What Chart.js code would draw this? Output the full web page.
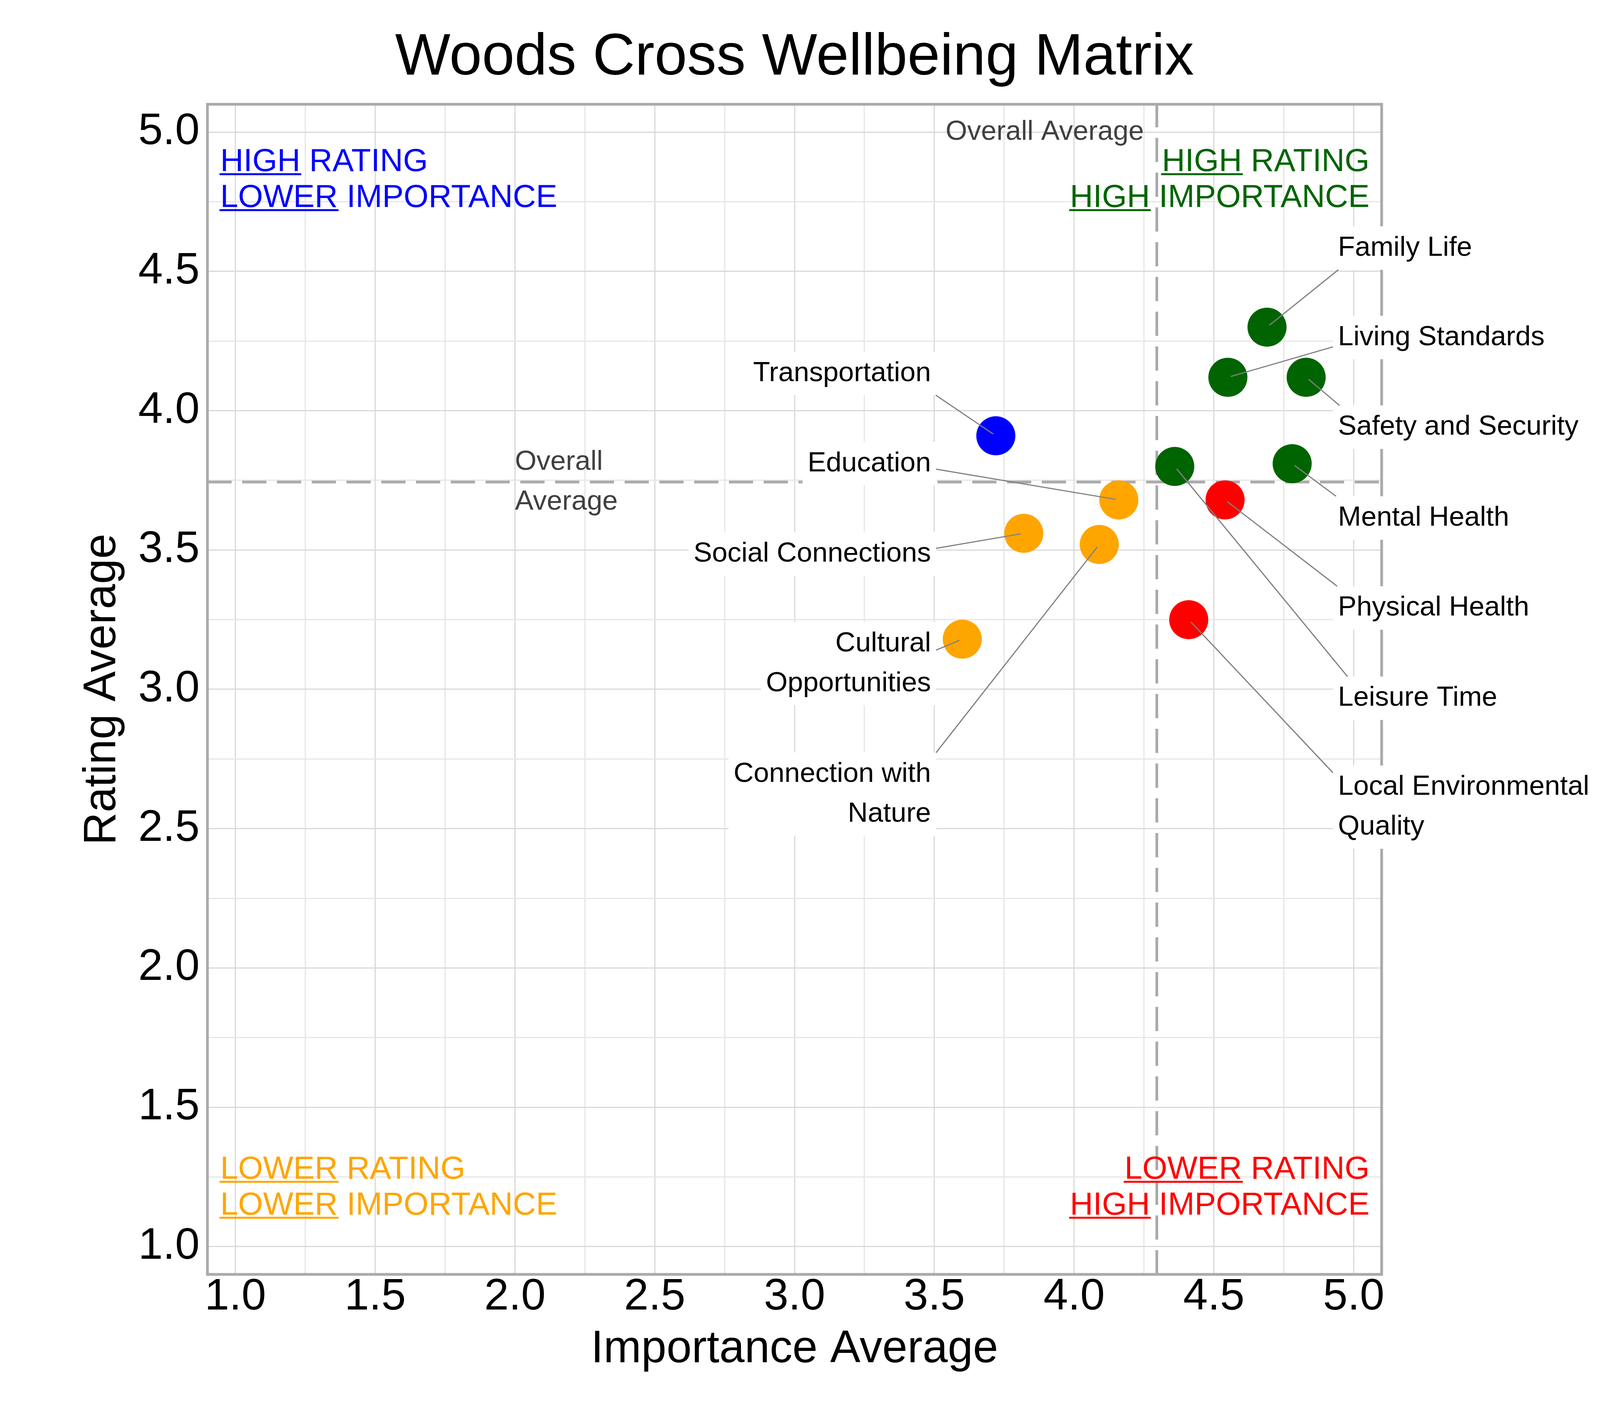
<!DOCTYPE html>
<html>
<head>
<meta charset="utf-8">
<title>Woods Cross Wellbeing Matrix</title>
<script src="https://cdn.jsdelivr.net/npm/chart.js@4.4.0/dist/chart.umd.min.js"></script>
<style>
  html, body { margin: 0; padding: 0; background: #ffffff; }
  #wrap { width: 4200px; height: 3600px; }
</style>
</head>
<body>
<div id="wrap"><canvas id="matrix" width="4200" height="3600"></canvas></div>
<script>
const FONT = '"Liberation Sans", Arial, Helvetica, sans-serif';

// Survey domains and their averages
const domains = ['Family Life', 'Living Standards', 'Safety and Security', 'Mental Health', 'Physical Health', 'Leisure Time',
    'Local Environmental Quality', 'Transportation', 'Education', 'Social Connections', 'Cultural Opportunities', 'Connection with Nature'];
const importanceAvg = [4.69, 4.55, 4.83, 4.78, 4.54, 4.36, 4.41, 3.72, 4.16, 3.82, 3.60, 4.09];
const ratingAvg = [4.30, 4.12, 4.12, 3.81, 3.68, 3.80, 3.25, 3.91, 3.68, 3.56, 3.18, 3.52];

// Label text (wrapped) and where each label is placed
const labelLines = [['Family Life'], ['Living Standards'], ['Safety and Security'], ['Mental Health'], ['Physical Health'],
    ['Leisure Time'], ['Local Environmental', 'Quality'], ['Transportation'], ['Education'], ['Social Connections'],
    ['Cultural', 'Opportunities'], ['Connection with', 'Nature']];
const labelX = [4.944, 4.944, 4.944, 4.944, 4.944, 4.944, 4.944, 3.488, 3.488, 3.488, 3.488, 3.488];
const labelY = [4.584, 4.263, 3.941, 3.615, 3.292, 2.968, 2.577, 4.134, 3.810, 3.486, 3.092, 2.624];
const labelAlign = ['left', 'left', 'left', 'left', 'left', 'left', 'left', 'right', 'right', 'right', 'right', 'right'];

// Axis ticks: grid every 0.25, labels every 0.5
const gridSteps = [1.0, 1.25, 1.5, 1.75, 2.0, 2.25, 2.5, 2.75, 3.0, 3.25, 3.5, 3.75, 4.0, 4.25, 4.5, 4.75, 5.0];
const tickValues = [1.0, 1.5, 2.0, 2.5, 3.0, 3.5, 4.0, 4.5, 5.0];
const tickLabels = ['1.0', '1.5', '2.0', '2.5', '3.0', '3.5', '4.0', '4.5', '5.0'];

// Quadrant captions: [underlined word, rest]
const quadrantText = [
    [['HIGH', ' RATING'], ['LOWER', ' IMPORTANCE']],   // top left
    [['HIGH', ' RATING'], ['HIGH', ' IMPORTANCE']],    // top right
    [['LOWER', ' RATING'], ['LOWER', ' IMPORTANCE']],  // bottom left
    [['LOWER', ' RATING'], ['HIGH', ' IMPORTANCE']]    // bottom right
];
const quadrantColors = ['#0000ff', '#006400', '#ffa500', '#ff0000'];

const mean = arr => arr.reduce((a, b) => a + b, 0) / arr.length;
const avgImportance = mean(importanceAvg);
const avgRating = mean(ratingAvg);

const quadrantOf = i => {
    const highRating = ratingAvg[i] >= avgRating;
    const highImp = importanceAvg[i] >= avgImportance;
    if (highRating) return highImp ? 1 : 0;
    return highImp ? 3 : 2;
};
const pointColors = domains.map((d, i) => quadrantColors[quadrantOf(i)]);

const LABEL_SIZE = 71;
const LINE_GAP = 102;
const HALF_EM = (0.905 + 0.212) / 2 * LABEL_SIZE;
const PAD_X = 13, PAD_Y = 16;
const ARROW_INSET = 70;   // connector aims at a spot this far inside the text

// white box behind a point label, in pixels
const labelBox = (chart, i) => {
    const { ctx, scales: { x, y } } = chart;
    const lines = labelLines[i];
    const px = x.getPixelForValue(labelX[i]);
    const py = y.getPixelForValue(labelY[i]);
    ctx.save();
    ctx.font = `${LABEL_SIZE}px ${FONT}`;
    const w = Math.max(...lines.map(l => ctx.measureText(l).width));
    ctx.restore();
    const n = lines.length;
    const mids = lines.map((l, k) => py + (k - (n - 1) / 2) * LINE_GAP);
    const textLeft = labelAlign[i] === 'left' ? px : px - w;
    return {
        anchor: px, mids, midY: py,
        hook: labelAlign[i] === 'left' ? px + ARROW_INSET : px - ARROW_INSET,
        left: textLeft - PAD_X, right: textLeft + w + PAD_X,
        top: mids[0] - HALF_EM - PAD_Y, bottom: mids[n - 1] + HALF_EM + PAD_Y
    };
};

const drawQuadrant = (ctx, lines, color, xAnchor, align, baselines) => {
    ctx.font = `82px ${FONT}`;
    ctx.fillStyle = color;
    ctx.strokeStyle = color;
    ctx.lineWidth = 5;
    ctx.lineCap = 'round';
    ctx.textAlign = 'left';
    ctx.textBaseline = 'alphabetic';
    lines.forEach(([word, rest], k) => {
        const ww = ctx.measureText(word).width;
        const total = ctx.measureText(word + rest).width;
        const x0 = align === 'left' ? xAnchor : xAnchor - total;
        ctx.fillText(word + rest, x0, baselines[k]);
        ctx.beginPath();
        ctx.moveTo(x0, baselines[k] + 8);
        ctx.lineTo(x0 + ww, baselines[k] + 8);
        ctx.stroke();
    });
};

const matrixDecor = {
    id: 'matrixDecor',
    beforeDatasetsDraw(chart) {
        const { ctx, chartArea: a, scales: { x, y } } = chart;
        const ax = x.getPixelForValue(avgImportance);
        const ay = y.getPixelForValue(avgRating);
        ctx.save();
        // overall average lines
        ctx.strokeStyle = '#aaaaaa';
        ctx.lineWidth = 7;
        ctx.setLineDash([62, 27]);
        ctx.beginPath();
        ctx.moveTo(ax, a.bottom); ctx.lineTo(ax, a.top);
        ctx.moveTo(a.left, ay); ctx.lineTo(a.right, ay);
        ctx.stroke();
        ctx.setLineDash([]);
        // frame
        ctx.strokeRect(a.left, a.top, a.right - a.left, a.bottom - a.top);
        // label backgrounds
        ctx.fillStyle = '#ffffff';
        domains.forEach((d, i) => {
            const b = labelBox(chart, i);
            ctx.fillRect(b.left, b.top, b.right - b.left, b.bottom - b.top);
        });
        ctx.restore();
    },
    afterDatasetsDraw(chart) {
        const { ctx, chartArea: a, scales: { x, y } } = chart;
        ctx.save();

        // connector lines: aim from inside the label towards the point, start at the box edge
        ctx.strokeStyle = '#808080';
        ctx.lineWidth = 3;
        domains.forEach((d, i) => {
            const b = labelBox(chart, i);
            const px = x.getPixelForValue(importanceAvg[i]);
            const py = y.getPixelForValue(ratingAvg[i]);
            const hx = b.hook, hy = b.midY;
            const dx = px - hx, dy = py - hy;
            let t = 1;
            if (dx > 0) t = Math.min(t, (b.right - hx) / dx);
            if (dx < 0) t = Math.min(t, (b.left - hx) / dx);
            if (dy > 0) t = Math.min(t, (b.bottom - hy) / dy);
            if (dy < 0) t = Math.min(t, (b.top - hy) / dy);
            const sx = hx + dx * t, sy = hy + dy * t;
            const len = Math.hypot(px - sx, py - sy);
            const k = len > 0 ? (len - 8) / len : 1;
            ctx.beginPath();
            ctx.moveTo(sx, sy);
            ctx.lineTo(sx + (px - sx) * k, sy + (py - sy) * k);
            ctx.stroke();
        });

        // label text
        ctx.font = `${LABEL_SIZE}px ${FONT}`;
        ctx.fillStyle = '#000000';
        ctx.textBaseline = 'middle';
        domains.forEach((d, i) => {
            const b = labelBox(chart, i);
            ctx.textAlign = labelAlign[i];
            labelLines[i].forEach((line, k) => ctx.fillText(line, b.anchor, b.mids[k]));
        });

        // overall average captions
        const ax = x.getPixelForValue(avgImportance);
        const ay = y.getPixelForValue(avgRating);
        ctx.fillStyle = '#404040';
        ctx.textAlign = 'right';
        ctx.fillText('Overall Average', ax - 33, y.getPixelForValue(5.0));
        ctx.textAlign = 'left';
        ctx.fillText('Overall', x.getPixelForValue(2.0), ay - LINE_GAP / 2);
        ctx.fillText('Average', x.getPixelForValue(2.0), ay + LINE_GAP / 2);

        // quadrant captions
        const topLines = [a.top + 171, a.top + 263];
        const bottomLines = [a.bottom - 245, a.bottom - 153];
        drawQuadrant(ctx, quadrantText[0], quadrantColors[0], a.left + 33, 'left', topLines);
        drawQuadrant(ctx, quadrantText[1], quadrantColors[1], a.right - 31, 'right', topLines);
        drawQuadrant(ctx, quadrantText[2], quadrantColors[2], a.left + 33, 'left', bottomLines);
        drawQuadrant(ctx, quadrantText[3], quadrantColors[3], a.right - 31, 'right', bottomLines);

        // title
        ctx.font = `150px ${FONT}`;
        ctx.fillStyle = '#000000';
        ctx.textAlign = 'center';
        ctx.textBaseline = 'alphabetic';
        ctx.fillText('Woods Cross Wellbeing Matrix', (a.left + a.right) / 2, 191);
        ctx.restore();
    }
};

const isMajor = v => tickValues.includes(v);
const tickLabel = v => {
    const idx = tickValues.indexOf(v);
    return idx >= 0 ? tickLabels[idx] : '';
};
const gridColor = c => (c.tick && isMajor(c.tick.value)) ? '#d9d9d9' : '#e6e6e6';

const ctx = document.getElementById('matrix').getContext('2d');
new Chart(ctx, {
    type: 'scatter',
    data: {
        datasets: [{
            label: 'Wellbeing domains',
            data: domains.map((d, i) => ({ x: importanceAvg[i], y: ratingAvg[i] })),
            backgroundColor: pointColors,
            borderWidth: 0,
            pointRadius: 50,
            pointHoverRadius: 50
        }]
    },
    options: {
        responsive: false,
        devicePixelRatio: 1,
        animation: false,
        layout: { padding: { top: 267, right: 663, bottom: 0, left: 0 } },
        plugins: {
            legend: { display: false },
            tooltip: { enabled: false },
            title: { display: false }
        },
        scales: {
            x: {
                type: 'linear',
                min: 0.9,
                max: 5.1,
                afterBuildTicks: s => { s.ticks = gridSteps.map(v => ({ value: v })); },
                afterFit: s => { s.height = 337; },
                border: { display: false },
                grid: { color: gridColor, lineWidth: 3, drawTicks: false },
                ticks: {
                    autoSkip: false,
                    maxRotation: 0,
                    padding: 2,
                    color: '#000000',
                    font: { family: FONT, size: 113, lineHeight: 1 },
                    callback: v => tickLabel(v)
                },
                title: {
                    display: true,
                    text: 'Importance Average',
                    color: '#000000',
                    font: { family: FONT, size: 116 },
                    padding: { top: 0, bottom: 74 }
                }
            },
            y: {
                type: 'linear',
                min: 0.9,
                max: 5.1,
                afterBuildTicks: s => { s.ticks = gridSteps.map(v => ({ value: v })); },
                afterFit: s => { s.width = 531; },
                border: { display: false },
                grid: { color: gridColor, lineWidth: 3, drawTicks: false },
                ticks: {
                    autoSkip: false,
                    padding: 20,
                    color: '#000000',
                    font: { family: FONT, size: 113, lineHeight: 1 },
                    callback: v => tickLabel(v)
                },
                title: {
                    display: true,
                    text: 'Rating Average',
                    color: '#000000',
                    font: { family: FONT, size: 116 },
                    padding: { top: 193, bottom: 0 }
                }
            }
        }
    },
    plugins: [matrixDecor]
});
</script>
</body>
</html>
